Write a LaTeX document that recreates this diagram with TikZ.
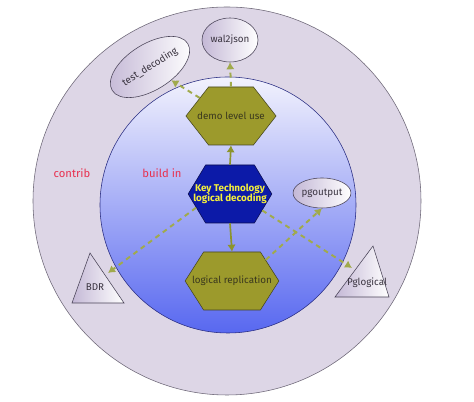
\documentclass[tikz,border=0pt]{standalone}
\usepackage{fontspec}
\setmainfont{Fira Sans}
\usepackage{tikz}
\usetikzlibrary{shapes.geometric,shapes.symbols,arrows.meta}

\definecolor{ringfill}{RGB}{221,214,230}
\definecolor{ringline}{RGB}{110,104,120}
\definecolor{coretop}{RGB}{242,242,253}
\definecolor{corebot}{RGB}{88,104,240}
\definecolor{coreline}{RGB}{40,44,130}
\definecolor{olivefill}{RGB}{156,154,44}
\definecolor{oliveline}{RGB}{70,70,30}
\definecolor{olivetext}{RGB}{58,56,30}
\definecolor{keyfill}{RGB}{12,26,168}
\definecolor{keyline}{RGB}{10,12,80}
\definecolor{keytext}{RGB}{245,240,60}
\definecolor{dashcol}{RGB}{160,170,76}
\definecolor{solidcol}{RGB}{140,148,44}
\definecolor{bubble}{RGB}{196,184,214}
\definecolor{bubbleline}{RGB}{74,68,88}
\definecolor{bubbletext}{RGB}{58,52,64}
\definecolor{labelred}{RGB}{232,48,79}

\begin{document}
\begin{tikzpicture}[
    hexbox/.style={signal, signal to=east and west, draw=oliveline, fill=olivefill,
      text=olivetext, font=\fontsize{7}{8}\selectfont, minimum height=1.45cm, inner ysep=0pt},
    bubblebox/.style={ellipse, draw=bubbleline, left color=bubble, right color=white,
      text=bubbletext, font=\fontsize{7}{8}\selectfont, inner sep=0pt},
    depends/.style={dashcol, line width=1.4pt, dash pattern=on 3.5pt off 3pt,
      -{Latex[length=5pt,width=6pt]}},
    uses/.style={solidcol, line width=1.2pt, -{Latex[length=5pt,width=6pt]}},
    tag/.style={text=labelred, font=\fontsize{8}{9}\selectfont}
  ]
    \useasboundingbox (0,0) rectangle (11.85,10.05);
    \fill [white] (0,0) rectangle (11.85,10.05);

    \draw [ringline, fill=ringfill] (5.675, 5.025) circle (4.85);
    \draw [coreline, top color=coretop, bottom color=corebot] (5.7, 4.925) circle (3.2);

    \node [tag] (contrib) at (1.8, 5.725) {contrib};
    \node [tag] (buildin) at (4.05, 5.725) {build in};

    \node [hexbox, signal pointer angle=104, inner xsep=0.56cm] (demo) at (5.775, 7.15)
      {\makebox[0pt]{demo level use}};
    \node [hexbox, signal pointer angle=118, inner xsep=0.61cm, draw=keyline, fill=keyfill,
      text=keytext, font=\fontsize{7}{8}\selectfont\bfseries] (key) at (5.75, 5.2)
      {\makebox[0pt]{\begin{tabular}{@{}c@{}}Key Technology\\[-1pt]logical decoding\end{tabular}}};
    \node [hexbox, signal pointer angle=115, inner xsep=0.71cm] (logrep) at (5.8, 3.025)
      {\makebox[0pt]{logical replication}};

    \node [bubblebox, minimum width=1.4cm, minimum height=1.1cm] (wal2json) at (5.75, 9.05) {wal2json};
    \node [bubblebox, minimum width=2.05cm, minimum height=1.15cm, rotate=32] (testdec) at (3.75, 8.375) {test\_decoding};
    \node [bubblebox, minimum width=1.25cm, minimum height=0.75cm] (pgoutput) at (8.05, 5.225) {pgoutput};

    \draw [bubbleline, left color=bubble, right color=white] (2.25, 3.725) -- (1.8, 2.475) -- (3.1, 2.475) -- cycle;
    \node [text=bubbletext, font=\fontsize{7}{8}\selectfont] (bdr) at (2.375, 2.875) {BDR};
    \draw [bubbleline, left color=bubble, right color=white] (9.325, 3.9) -- (8.375, 2.625) -- (9.725, 2.625) -- cycle;
    \node [text=bubbletext, font=\fontsize{7}{8}\selectfont] (pglogical) at (9.175, 2.975) {Pglogical};
    \coordinate (bdrtip) at (2.7, 3.225);
    \coordinate (pglogicaltip) at (8.8, 3.35);

    \draw [uses] (key.north) -- (demo.south);
    \draw [uses] (key.south) -- (logrep.north);
    \draw [depends] (demo.north) -- (wal2json.south);
    \draw [depends] (demo.150) -- (testdec);
    \draw [depends] (key.202) -- (bdrtip);
    \draw [depends] (key.-27) -- (pglogicaltip);
    \draw [depends] (logrep.32) -- (pgoutput.south);
  \end{tikzpicture}
\end{document}
